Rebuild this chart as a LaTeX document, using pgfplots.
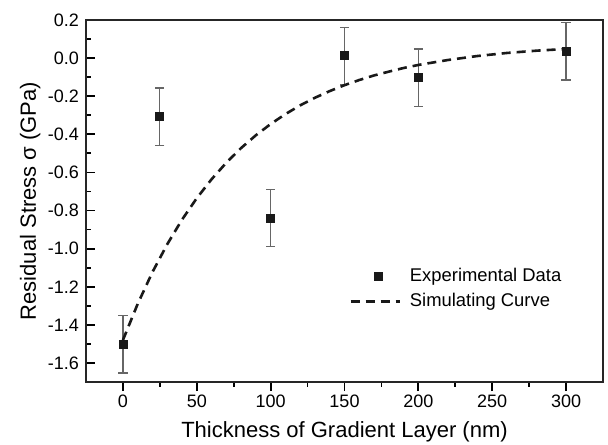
\documentclass[border=0pt]{standalone}
\usepackage{fontspec}
\setmainfont{Liberation Sans}
\usepackage{pgfplots}
\pgfplotsset{compat=1.18}
\pgfplotsset{
  simleg/.style={legend image code/.code={\draw[##1] (0pt,0pt) -- (24.5pt,0pt); \path (27pt,0pt);}},
  expleg/.style={legend image code/.code={\path (0pt,0pt) (27pt,0pt); \draw[##1] plot coordinates {(14pt,0pt)};}},
}

\pgfplotstableread{
x    y      e
0    -1.503 0.15
25   -0.307 0.15
100  -0.840 0.15
150   0.012 0.15
200  -0.102 0.15
300   0.035 0.15
}\expdata

\pgfplotstableread{
x    y
0    -1.480
10   -1.290
20   -1.123
30   -0.977
40   -0.848
50   -0.735
60   -0.636
70   -0.549
80   -0.472
90   -0.405
100  -0.346
110  -0.294
120  -0.248
130  -0.208
140  -0.173
150  -0.142
160  -0.115
170  -0.091
180  -0.071
190  -0.052
200  -0.036
220  -0.010
240   0.011
260   0.027
280   0.039
300   0.048
}\simdata

\begin{document}
\begin{tikzpicture}
\begin{axis}[
    at={(0,0)}, anchor=south west,
    scale only axis,
    width=258.5pt, height=181pt,
    xmin=-25, xmax=325,
    ymin=-1.7, ymax=0.2,
    xtick={0,50,...,300},
    ytick={-1.6,-1.4,-1.2,-1.0,-0.8,-0.6,-0.4,-0.2,0.0,0.2},
    minor x tick num=1,
    minor y tick num=1,
    tick pos=left,
    tick align=inside,
    major tick length=4.5pt,
    minor tick length=2.4pt,
    major x tick style={yshift=-4.5pt},
    minor x tick style={yshift=-2.4pt},
    every tick/.style={black, line width=0.9pt},
    axis line style={line width=1.1pt, black!85},
    x tick label style={yshift=-3pt},
    tick label style={font=\fontsize{9}{10}\selectfont},
    /pgf/number format/assume math mode=true,
    y tick label style={/pgf/number format/.cd, fixed, fixed zerofill, precision=1},
    xlabel={Thickness of Gradient Layer (nm)},
    ylabel={Residual Stress σ (GPa)},
    every axis x label/.style={at={(axis description cs:0.5,-0.138)}, anchor=center},
    every axis y label/.style={at={(axis description cs:-0.108,0.5)}, anchor=center, rotate=90},
    label style={font=\fontsize{11}{12}\selectfont},
    legend cell align=left,
    legend style={draw=none, fill=none, at={(0.497,0.338)}, anchor=north west,
        font=\fontsize{9.2}{11}\selectfont, row sep=0.5pt},
]
\addplot[only marks, mark=square*, mark size=2pt, black!90, expleg,
    error bars/.cd, y dir=both, y explicit,
    error bar style={black!60, line width=0.6pt},
    error mark options={rotate=90, mark size=2.3pt, black!60, line width=0.6pt}]
    table[x=x, y=y, y error=e] {\expdata};
\addlegendentry{Experimental Data}
\addplot[black!90, line width=1.3pt, dash pattern=on 4.5pt off 3pt, simleg]
    table[x=x, y=y] {\simdata};
\addlegendentry{Simulating Curve}
\end{axis}
\pgfresetboundingbox
\path[use as bounding box] (-43pt,-31pt) rectangle (261pt,191pt);
\end{tikzpicture}
\end{document}
